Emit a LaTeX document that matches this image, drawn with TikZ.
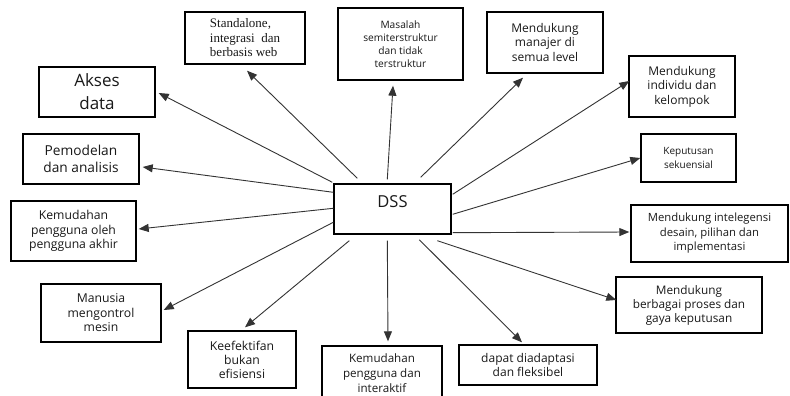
\documentclass[tikz,border=0pt]{standalone}
\usepackage{fontspec}
\setmainfont{Open Sans}
\newfontfamily\serifx{Liberation Serif}
\usetikzlibrary{arrows.meta,calc}
\begin{document}
\begin{tikzpicture}[x=1pt,y=-1pt,
  box/.style={draw=black,line width=1.4pt,fill=white,inner sep=0pt,align=center,text=black!90},
  arr/.style={draw=black!80,line width=0.9pt,-{Triangle[length=10pt,width=8pt]}},
  fz/.style n args={2}{font=\fontsize{#1}{#2}\selectfont}
]
\useasboundingbox (0,0) rectangle (790,396);
\fill[white] (0,0) rectangle (790,396);
\begin{scope}
\clip (0,0) rectangle (790,396);

% central node, label set high in the box
\node[box,minimum width=117pt,minimum height=50pt,fz={16.5}{20},text height=12pt,text depth=15pt] (dss) at (392.5,209) {DSS};

% surrounding properties
\node[box,minimum width=120pt,minimum height=52pt,align=left,font=\serifx\fontsize{13}{14.5}\selectfont] (std) at (245,38) {Standalone,\\integrasi\ \ dan\\berbasis web};
\node[box,minimum width=125pt,minimum height=72pt,fz={10.2}{13.2}] (mas) at (400.5,44) {Masalah\\semiterstruktur\\dan tidak\\terstruktur};
\node[box,minimum width=116pt,minimum height=61pt,fz={12}{14.5}] (man) at (545,42.5) {Mendukung\\manajer di\\semua level};
\node[box,minimum width=106pt,minimum height=61pt,fz={12}{14.5}] (ind) at (682,86.5) {Mendukung\\individu dan\\kelompok};
\node[box,minimum width=95pt,minimum height=48pt,fz={10}{14}] (kep) at (688.5,158) {Keputusan\\sekuensial};
\node[box,minimum width=157pt,minimum height=57pt,fz={11.3}{14.5}] (int) at (709.5,233.5) {Mendukung intelegensi\\desain, pilihan dan\\implementasi};
\node[box,minimum width=146pt,minimum height=56pt,fz={11.8}{14}] (ber) at (689,305) {Mendukung\\berbagai proses dan\\gaya keputusan};
\node[box,minimum width=138pt,minimum height=40pt,fz={12}{13.5}] (ada) at (528,365) {dapat diadaptasi\\dan fleksibel};
\node[box,minimum width=120pt,minimum height=54pt,fz={11.6}{15}] (kem2) at (382,373) {Kemudahan\\pengguna dan\\interaktif};
\node[box,minimum width=108pt,minimum height=57pt,fz={12.2}{14}] (kef) at (242,359.5) {Keefektifan\\bukan\\efisiensi};
\node[box,minimum width=120pt,minimum height=58pt,fz={12.2}{14.5}] (manu) at (101,313) {Manusia\\mengontrol\\mesin};
\node[box,minimum width=125pt,minimum height=60pt,fz={12.2}{14.5}] (kem1) at (73.5,231) {Kemudahan\\pengguna oleh\\pengguna akhir};
\node[box,minimum width=116pt,minimum height=50pt,fz={13.7}{17}] (pem) at (81,159) {Pemodelan\\dan analisis};
\node[box,minimum width=116pt,minimum height=50pt,fz={17}{23}] (aks) at (97,92) {Akses\\data};

% this box runs past the lower edge
\draw[line width=1.4pt] (kem2.north west) -- ++(0,60) (kem2.north east) -- ++(0,60);

% connectors from DSS
\draw[arr] ($(dss.north west)+(24,-5)$) -- ($(std.south)+(2,6)$);
\draw[arr] ($(dss.north west)+(-1,-1)$) -- ($(aks.east)+(3,1)$);
\draw[arr] ($(dss.north west)+(0,9)$) -- ($(pem.east)+(3,8)$);
\draw[arr] ($(dss.north west)+(0,25)$) -- ($(kem1.east)+(2,-2)$);
\draw[arr] ($(dss.north west)+(0,39)$) -- ($(manu.east)+(2,-3)$);
\draw[arr] ($(dss.south west)+(16,6)$) -- ($(kef.north)+(3,-3)$);
\draw[arr] ($(dss.south west)+(54,6)$) -- ($(kem2.north)+(6,-4)$);
\draw[arr] ($(dss.south west)+(86,5)$) -- ($(ada.north)+(-6,-2)$);
\draw[arr] ($(dss.south west)+(104,6)$) -- ($(ber.west)+(1,-5)$);
\draw[arr] ($(dss.south east)+(1,-2)$) -- ($(int.west)+(-1,-1.5)$);
\draw[arr] ($(dss.north east)+(1,31)$) -- ($(kep.west)+(0,0)$);
\draw[arr] ($(dss.north east)+(1,11)$) -- ($(ind.west)+(1,-5.5)$);
\draw[arr] ($(dss.north east)+(-31,-6)$) -- ($(man.south)+(-22,4)$);
\draw[arr] ($(dss.north west)+(54,-4)$) -- ($(mas.south)+(-7.5,5)$);
\end{scope}
\end{tikzpicture}
\end{document}
